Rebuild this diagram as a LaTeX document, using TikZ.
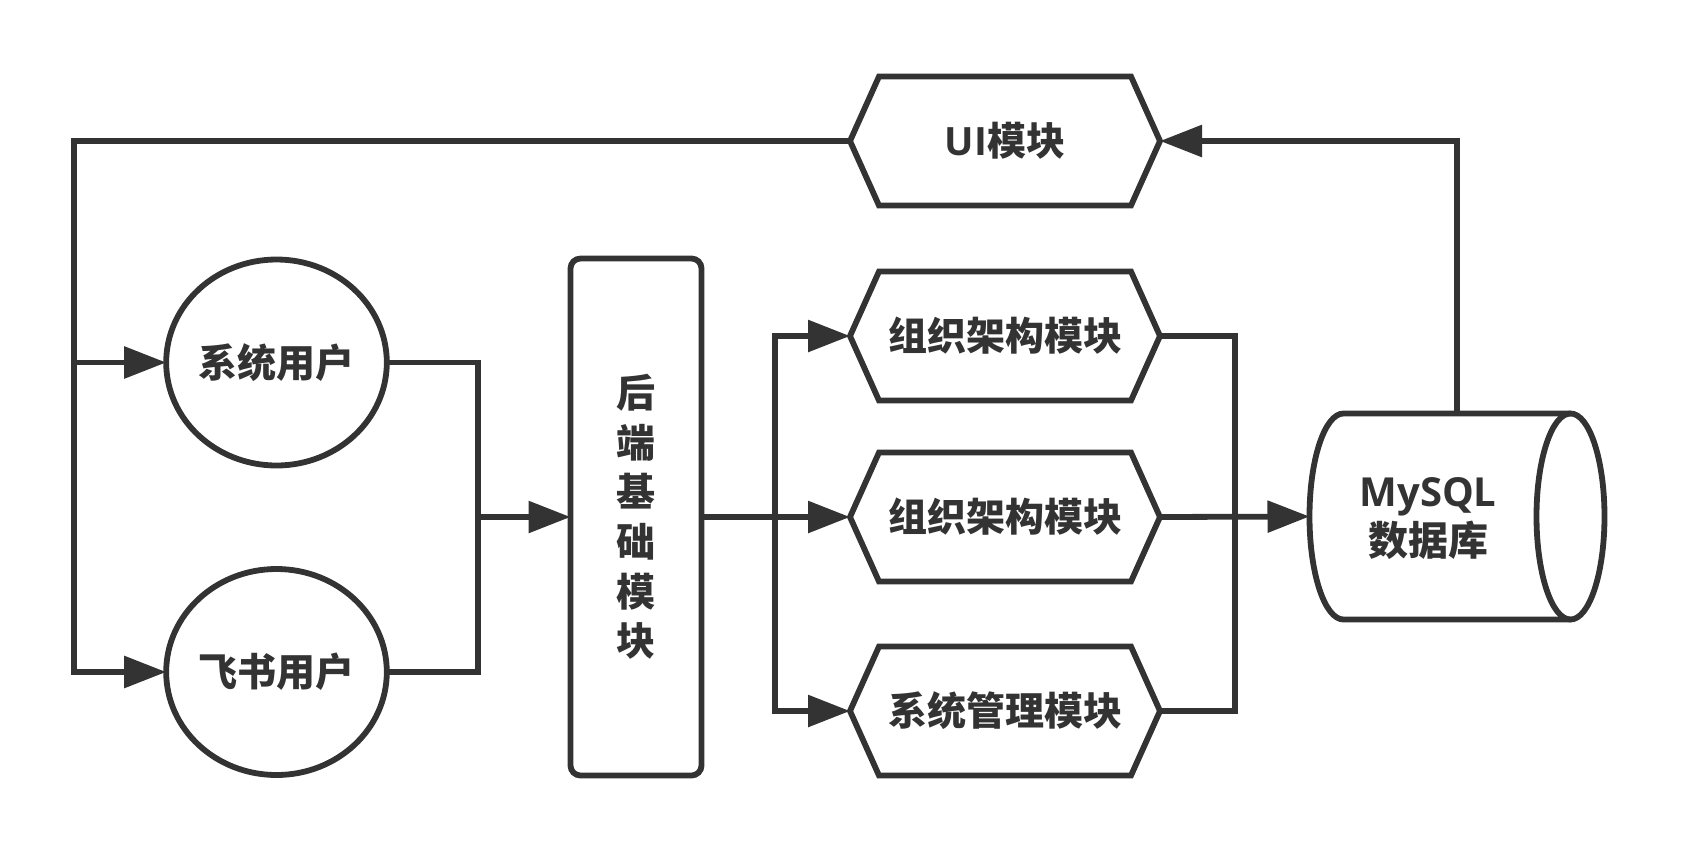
\documentclass[tikz,border=0pt]{standalone}
\usepackage{fontspec}
\usetikzlibrary{arrows.meta,calc,shapes.geometric}
\newfontfamily\latfont{Open Sans}
\newfontfamily\cjkfont{Noto Sans CJK SC}
\definecolor{ink}{HTML}{333333}

% hexagonal module outline drawn around an invisible rectangle node
\newcommand\hexoutline[1]{%
  \draw[line] (#1.west) -- ($(#1.north west)+(29,0)$) -- ($(#1.north east)+(-29,0)$)
    -- (#1.east) -- ($(#1.south east)+(-29,0)$) -- ($(#1.south west)+(29,0)$) -- cycle;}

\tikzset{
  line/.style={draw=ink, line width=2.9pt},
  arrowline/.style={line, -{Triangle[length=21pt,width=15.5pt]}},
  label/.style={text=ink, font=\fontsize{19.5}{24}\selectfont\bfseries\cjkfont, inner sep=0pt, outer sep=0pt},
  hexbox/.style={label, rectangle, minimum width=155pt, minimum height=64.5pt},
  userbox/.style={label, ellipse, line, minimum width=109pt, minimum height=103pt},
  backbox/.style={label, rectangle, line, rounded corners=5pt, minimum width=65.5pt, minimum height=258.5pt, align=center},
  dbbox/.style={label, rectangle, minimum width=147.5pt, minimum height=103pt},
}

\begin{document}
\begin{tikzpicture}[x=0.5pt, y=-0.5pt]
\useasboundingbox (0,0) rectangle (1683,852);

% users
\node[userbox] (sys) at (276.5,362.5) {系统用户};
\node[userbox] (fei) at (276.5,672) {飞书用户};

% backend core
\node[backbox, font=\fontsize{19.5}{24.8}\selectfont\bfseries\cjkfont] (backend) at (636,517) {后\\端\\基\\础\\模\\块};

% modules
\node[hexbox] (ui) at (1005,141) {{\latfont UI}模块};
\node[hexbox] (m1) at (1005,336) {组织架构模块};
\node[hexbox] (m2) at (1005,517) {组织架构模块};
\node[hexbox] (m3) at (1005,711) {系统管理模块};
\hexoutline{ui}
\hexoutline{m1}
\hexoutline{m2}
\hexoutline{m3}

% database cylinder
\node[dbbox] (db) at (1457,516.5) {};
\draw[line] ($(db.north east)+(-34,0)$) -- ($(db.north west)+(34,0)$)
  arc[start angle=90, end angle=270, x radius=17pt, y radius=51.5pt]
  -- ($(db.south east)+(-34,0)$);
\draw[line] ($(db.east)+(-34,0)$) ellipse [x radius=17pt, y radius=51.5pt];
\node[label, align=center, font=\fontsize{20}{24.5}\selectfont\bfseries\cjkfont] (dbtext) at (1428,519)
  {{\latfont MySQL}\\数据库};

% junction points
\coordinate (topleft) at (74,141);
\coordinate (ujoin) at (478,517);
\coordinate (mjoin) at (775,517);
\coordinate (djoin) at (1235,517);

% connectors
\draw[arrowline] (ui.west) -- (topleft) |- (fei.west);
\draw[arrowline] (topleft |- sys.west) -- (sys.west);
\draw[line] (sys.east) -| (ujoin);
\draw[line] (fei.east) -| (ujoin);
\draw[arrowline] (ujoin) -- (backend.west);
\draw[line] (backend.east) -- (mjoin);
\draw[arrowline] (mjoin) |- (m1.west);
\draw[arrowline] (mjoin) -- (m2.west);
\draw[arrowline] (mjoin) |- (m3.west);
\draw[line] (m1.east) -| (djoin);
\draw[line] (m3.east) -| (djoin);
\draw[arrowline] (m2.east) -- (db.west);
\draw[arrowline] (db.north) |- (ui.east);
\end{tikzpicture}
\end{document}
